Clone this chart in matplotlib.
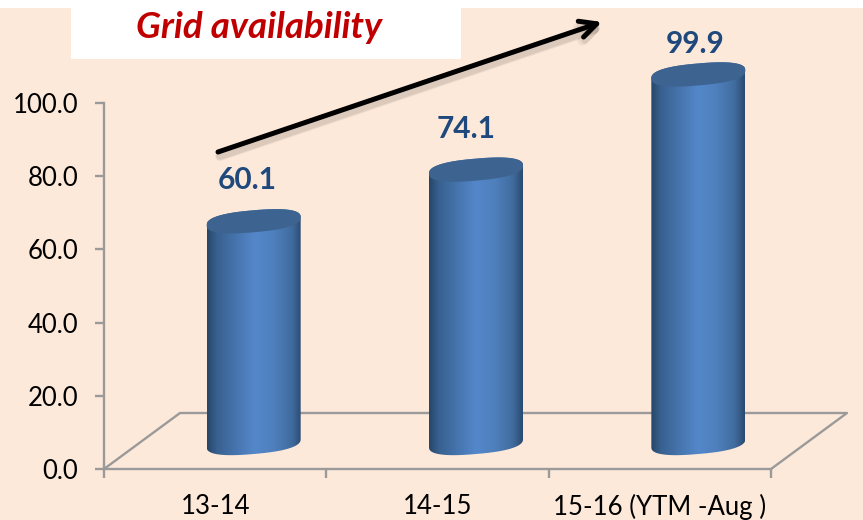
import numpy as np
import matplotlib
matplotlib.use("Agg")
import matplotlib.pyplot as plt
from matplotlib.patches import Polygon, Rectangle
from matplotlib.colors import LinearSegmentedColormap

categories = ["13-14", "14-15", "15-16 (YTM -Aug )"]
availability = [60.1, 74.1, 99.9]
y_ticks = [0, 20, 40, 60, 80, 100]

# value label offsets from the centre of each cylinder top, in pixels
label_dx = [-6, -10, -3]
label_dy = [41, 41, 30]

W, H = 863, 520
BG = "#fde9d9"
AXIS = "#9a9a9a"
BAR_TOP = "#3d6391"
LABEL = "#1f497d"

plt.rcParams["font.family"] = ["Lato", "DejaVu Sans"]

fig = plt.figure(figsize=(W / 100, H / 100), dpi=100, facecolor=BG)

# axes box is the front edge of the 3d floor
left, right, y0, y100 = 104, 771, 469, 103
ax = fig.add_axes([left / W, 1 - y0 / H, (right - left) / W, (y0 - y100) / H])
ax.set_xlim(-0.5, 2.5)
ax.set_ylim(0, 100)
ax.patch.set_alpha(0)

px_x = (right - left) / 3
px_y = (y0 - y100) / 100

for s in ["top", "right"]:
    ax.spines[s].set_visible(False)
for s in ["left", "bottom"]:
    ax.spines[s].set_color(AXIS)
    ax.spines[s].set_linewidth(1.7)

ax.set_yticks(y_ticks)
ax.set_yticklabels([f"{v:.1f}" for v in y_ticks], fontsize=18.5, color="black")
ax.set_xticks([-0.5, 0.5, 1.5, 2.5])
ax.set_xticklabels([])
ax.tick_params(axis="both", color=AXIS, width=1.7, length=6.5)
ax.tick_params(axis="y", pad=12)

# floor parallelogram going back from the x axis
dx_floor, dy_floor = 76 / px_x, 56 / px_y
floor_x = [-0.5, -0.5 + dx_floor, 2.5 + dx_floor, 2.5]
floor_y = [0, dy_floor, dy_floor, 0]
ax.plot(floor_x, floor_y, color=AXIS, lw=1.7, clip_on=False, zorder=1)

for i, name in enumerate(categories):
    ax.text(i, -38 / px_y, name, ha="center", va="center", fontsize=18.5, clip_on=False)

shade = LinearSegmentedColormap.from_list(
    "cyl",
    [(0, "#274768"), (0.1, "#38608f"), (0.3, "#4674ad"), (0.5, "#5487ca"),
     (0.7, "#4f80bd"), (0.9, "#406b9d"), (1, "#2a4a70")],
)

# half width, half height and tilt of the cylinder ends, in pixels
rx, ry, tilt = 47, 11, 4
depth_x = 38.5 / px_x
base_y = 26 / px_y
bar_scale = 1.008

# slightly squared ellipse gives the fuller ends of the cylinders
t = np.linspace(0, 2 * np.pi, 160)
cos_t = np.sign(np.cos(t)) * np.abs(np.cos(t)) ** 0.8
sin_t = np.sign(np.sin(t)) * np.abs(np.sin(t)) ** 0.8
ell_x = rx * cos_t / px_x
ell_y = (tilt * cos_t + ry * sin_t) / px_y

for i, v in enumerate(availability):
    cx = i + depth_x
    top = base_y + v * bar_scale
    lower = t > np.pi
    # outline: bottom arc of the base ellipse, then back over the top ellipse
    body_xy = np.vstack([
        np.column_stack([cx + ell_x[lower], base_y + ell_y[lower]]),
        np.column_stack([cx + ell_x[~lower], top + ell_y[~lower]]),
    ])
    body = Polygon(body_xy, closed=True, transform=ax.transData, fc="none", ec="none")
    ax.add_patch(body)
    img = ax.imshow(
        np.linspace(0, 1, 200)[None, :], cmap=shade, aspect="auto", zorder=3,
        extent=[cx - rx / px_x, cx + rx / px_x, base_y - 20, top + 20],
    )
    img.set_clip_box(fig.bbox)
    img.set_clip_path(body)
    ax.add_patch(Polygon(np.column_stack([cx + ell_x, top + ell_y]), closed=True,
                         fc=BAR_TOP, ec="none", zorder=4, clip_on=False))
    ax.text(cx + label_dx[i] / px_x, top + label_dy[i] / px_y, f"{v:.1f}",
            ha="center", va="center", fontsize=21.5, fontweight="bold", color=LABEL, clip_on=False)

ax.set_xlim(-0.5, 2.5)
ax.set_ylim(0, 100)

# title box and the white strip along the top edge, in pixel coordinates
overlay = fig.add_axes([0, 0, 1, 1], zorder=5)
overlay.set_xlim(0, W)
overlay.set_ylim(H, 0)
overlay.axis("off")
overlay.add_patch(Rectangle((0, 0), W, 8, fc="white", ec="none"))
overlay.add_patch(Rectangle((71, 0), 390, 59, fc="white", ec="none"))
overlay.text(259, 27, "Grid availability", ha="center", va="center", fontsize=26.5,
             fontweight="bold", fontstyle="italic", color="#c00000")

# soft shadow first, then the arrow on top
for grow, alpha in [(3.5, 0.06), (2, 0.08)]:
    overlay.annotate("", xy=(604, 26), xytext=(220, 156),
                     arrowprops=dict(arrowstyle="->,head_length=1.0,head_width=0.5", lw=3.6 + grow,
                                     color="black", alpha=alpha, shrinkA=0, shrinkB=0))
overlay.annotate("", xy=(602, 22), xytext=(218, 152),
                 arrowprops=dict(arrowstyle="->,head_length=1.2,head_width=0.6", lw=3.6,
                                 color="black", shrinkA=0, shrinkB=0))

fig.savefig("out.png", dpi=100, facecolor=BG)
